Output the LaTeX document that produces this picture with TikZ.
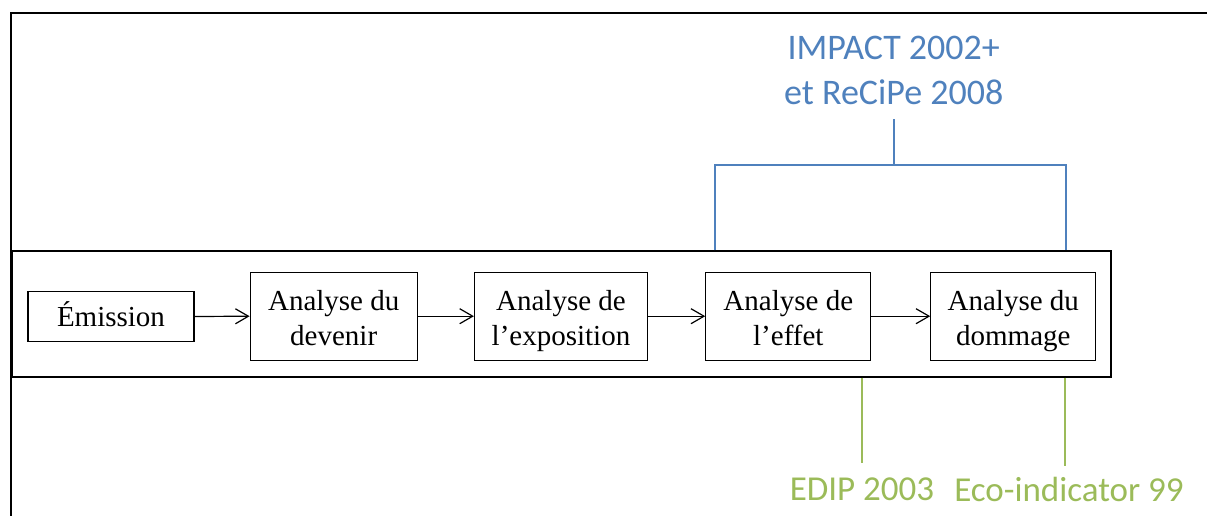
\documentclass[tikz,border=0pt]{standalone}
\usepackage{fontspec}
\setmainfont{Liberation Serif}
\newfontfamily\calibri{Carlito}
\usetikzlibrary{arrows.meta}
\definecolor{methblue}{HTML}{4F81BD}
\definecolor{methgreen}{HTML}{9BBB59}
% struts that fix where the baselines sit inside the stage boxes
\newcommand\hitop{\rule{0pt}{34.5pt}}
\newcommand\lotop{\rule{0pt}{31pt}}
\newcommand\lobot{\rule[-10.5pt]{0pt}{10.5pt}}

\begin{document}
\begin{tikzpicture}[x=1pt,y=-1pt,
  stage/.style={draw, line width=1.2pt, inner sep=0pt, align=center,
    font=\fontsize{29}{35}\selectfont},
  flow/.style={-{Straight Barb[length=13pt,width=15pt]}, line width=1.2pt},
  bluelink/.style={draw=methblue, line width=2pt},
  greenlink/.style={draw=methgreen, line width=2pt},
  bluelabel/.style={text=methblue, inner sep=0pt, align=center,
    font=\calibri\fontsize{36}{45}\selectfont},
  greenlabel/.style={text=methgreen, inner sep=0pt,
    font=\calibri\fontsize{35}{42}\selectfont}
]
\useasboundingbox (0,0) rectangle (1207,515);

% outer frame (runs off the page to the right and bottom)
\draw[line width=1.6pt] (11,540) -- (11,13) -- (1240,13);

% container of the impact chain
\node[draw, line width=1.3pt, minimum width=1099pt, minimum height=126pt, inner sep=0pt]
  (chain) at (561.5,314) {};

% stages
\node[stage, minimum width=166pt, minimum height=50pt] (em) at (111,316.5)
  {\lotop Émission\lobot};
\node[stage, minimum width=167pt, minimum height=88pt] (dev) at (333.7,316.2)
  {\hitop Analyse du\\devenir\lobot};
\node[stage, minimum width=173pt, minimum height=88pt] (exp) at (561,316.2)
  {\hitop Analyse de\\l’exposition\lobot};
\node[stage, minimum width=165pt, minimum height=88pt] (eff) at (788.3,316.2)
  {\hitop Analyse de\\l’effet\lobot};
\node[stage, minimum width=165pt, minimum height=88pt] (dom) at (1013.3,316.2)
  {\hitop Analyse du\\dommage\lobot};

\draw[flow] (em.east) -- (dev.west);
\draw[flow] (dev.east) -- (exp.west);
\draw[flow] (exp.east) -- (eff.west);
\draw[flow] (eff.east) -- (dom.west);

% methods covering effect and damage
\node[bluelabel, anchor=south, outer ysep=14pt] (impact) at (893.7,119)
  {IMPACT 2002+\\et ReCiPe 2008};
\coordinate (bj) at (893.7,165);
\coordinate (bl) at (715,165);
\coordinate (br) at (1065.5,165);
\draw[bluelink] (impact.south) -- (bj);
\draw[bluelink] (bl |- chain.north) -- (bl) -- (br) -- (br |- chain.north);

% methods at the bottom
\node[greenlabel, anchor=north, outer ysep=14.5pt] (edip) at (862,463) {EDIP 2003};
\node[greenlabel, anchor=north, outer ysep=11.5pt] (eco) at (1069,466) {Eco-indicator 99};
\coordinate (g1) at (862,463);
\coordinate (g2) at (1065,466);
\draw[greenlink] (g1 |- chain.south) -- (g1);
\draw[greenlink] (g2 |- chain.south) -- (g2);
\end{tikzpicture}
\end{document}
